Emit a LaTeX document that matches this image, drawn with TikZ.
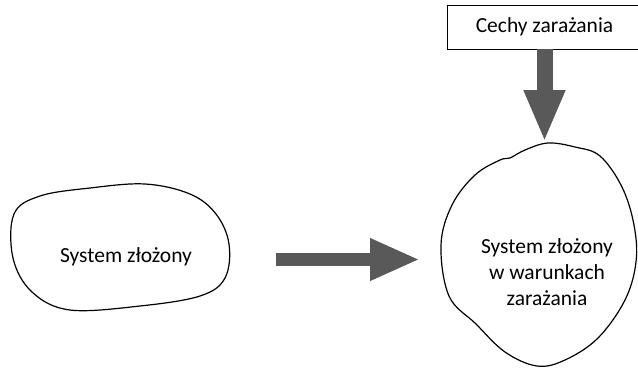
\documentclass[tikz,border=0pt]{standalone}
\usepackage{fontspec}
\setmainfont{Carlito}
\usetikzlibrary{arrows.meta}
\definecolor{arrowgray}{HTML}{595959}
\tikzset{
  blob/.style={draw=black, line width=1.2pt, line join=round},
  label/.style={font=\fontsize{21.5}{26}\selectfont, inner sep=0pt, align=center},
  fatarrow/.style={draw=arrowgray, line width=#1, line cap=butt},
  framebox/.style={draw=black, line width=0.8pt, fill=white, minimum width=195pt,
    minimum height=44pt, inner sep=0pt, font=\fontsize{21.5}{26}\selectfont}
}
\begin{document}
\begin{tikzpicture}[x=1pt,y=-1pt]
  \useasboundingbox (0,0) rectangle (638,368);

  % left outline: the plain complex system
  \draw[blob] plot[smooth cycle, tension=0.6] coordinates {
    (14,214) (40,196) (90,188) (145,184) (190,194) (216,214) (229,244)
    (225,278) (200,296) (140,306) (70,310) (32,292) (13,258)};

  % right outline: the system under infection
  \draw[blob] plot[smooth cycle, tension=0.6] coordinates {
    (548,143) (575,147) (600,156) (622,187) (634,225) (636,262) (625,300)
    (598,338) (565,360) (537,366) (505,352) (476,324) (449,296) (441,245)
    (452,205) (475,175) (500,160) (510,158) (525,150)};

  \node[label, anchor=base] (plain) at (126,262) {System złożony};
  \node[label] (infected) at (547,272) {System złożony\\w warunkach\\zarażania};

  \node[framebox] (cechy) at (544.5,27) {Cechy zarażania};

  \coordinate (rstart) at (276,259.5);
  \coordinate (rtip) at (420,259.5);
  \coordinate (dtip) at (544.5,142);

  \draw[fatarrow=13pt, -{Triangle[length=50pt, width=39pt, fill=arrowgray]}]
    (rstart) -- (rtip);
  \draw[fatarrow=16pt, -{Triangle[length=52pt, width=38pt, fill=arrowgray]}]
    (cechy.south) -- (dtip);
\end{tikzpicture}
\end{document}
